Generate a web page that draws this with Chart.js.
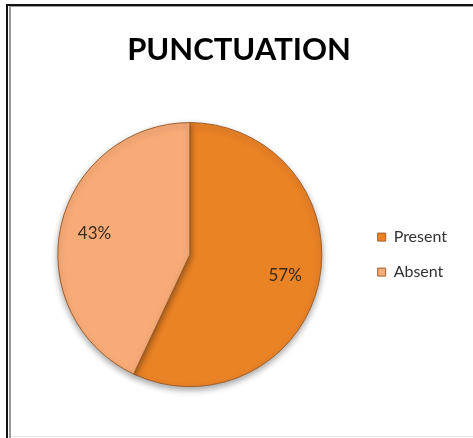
<!DOCTYPE html>
<html>
<head>
<meta charset="utf-8">
<script src="https://cdn.jsdelivr.net/npm/chart.js@4"></script>
<style>
  html, body { margin: 0; padding: 0; background: #fff; }
  #wrap { width: 473px; height: 438px; }
</style>
</head>
<body>
<div id="wrap"><canvas id="pieChart" width="473" height="438"></canvas></div>
<script>
const chartTitle = 'PUNCTUATION';
const categories = ['Present', 'Absent'];
const percentages = [57, 43];
const sliceColors = ['#EA8226', '#F7AB77'];

// outer frame like the original picture border
const framePlugin = {
    id: 'frame',
    beforeDraw(chart) {
        const ctx = chart.ctx;
        ctx.save();
        ctx.fillStyle = '#fff';
        ctx.fillRect(0, 0, chart.width, chart.height);
        ctx.fillStyle = '#111';
        ctx.fillRect(6, 4, 2, chart.height - 4);
        ctx.fillRect(6, 4, chart.width - 6, 2);
        ctx.fillStyle = '#9a9a9a';
        ctx.fillRect(9, 6, 2, chart.height - 6);
        ctx.fillRect(9, 6, chart.width - 9, 1);
        ctx.fillStyle = '#e4e4e4';
        ctx.fillRect(11, chart.height - 2, chart.width - 11, 1);
        ctx.restore();
    }
};

// soft shadow under the pie
const shadowPlugin = {
    id: 'pieShadow',
    beforeDatasetsDraw(chart) {
        const ctx = chart.ctx;
        ctx.save();
        ctx.shadowColor = 'rgba(0,0,0,0.35)';
        ctx.shadowBlur = 6;
        ctx.shadowOffsetY = 3;
    },
    afterDatasetsDraw(chart) {
        chart.ctx.restore();
    }
};

// percent labels inside the slices
const percentPlugin = {
    id: 'percentLabels',
    afterDatasetsDraw(chart) {
        const ctx = chart.ctx;
        const meta = chart.getDatasetMeta(0);
        ctx.save();
        ctx.font = '17px Lato';
        ctx.fillStyle = '#3b2a1c';
        ctx.textAlign = 'center';
        ctx.textBaseline = 'middle';
        meta.data.forEach((arc, i) => {
            const p = arc.getProps(['x', 'y', 'startAngle', 'endAngle', 'outerRadius'], true);
            const mid = (p.startAngle + p.endAngle) / 2;
            const r = p.outerRadius * 0.74;
            ctx.fillText(percentages[i] + '%', p.x + Math.cos(mid) * r, p.y + Math.sin(mid) * r);
        });
        ctx.restore();
    }
};

const ctx = document.getElementById('pieChart').getContext('2d');
new Chart(ctx, {
    type: 'pie',
    data: {
        labels: categories,
        datasets: [{
            data: percentages,
            backgroundColor: sliceColors,
            borderColor: '#a0602c',
            borderWidth: 1,
            radius: 132
        }]
    },
    options: {
        responsive: false,
        animation: false,
        layout: {
            padding: { top: 8, left: 21, right: 16, bottom: 48 }
        },
        plugins: {
            title: {
                display: true,
                text: chartTitle,
                color: '#000',
                font: { family: 'Lato', size: 31, weight: 'bold' },
                padding: { top: 23, bottom: 51 }
            },
            legend: {
                position: 'right',
                fullSize: false,
                labels: {
                    boxWidth: 8,
                    boxHeight: 8,
                    padding: 19,
                    color: '#333',
                    font: { family: 'Lato', size: 16 }
                }
            },
            tooltip: { enabled: false }
        }
    },
    plugins: [framePlugin, shadowPlugin, percentPlugin]
});
</script>
</body>
</html>
